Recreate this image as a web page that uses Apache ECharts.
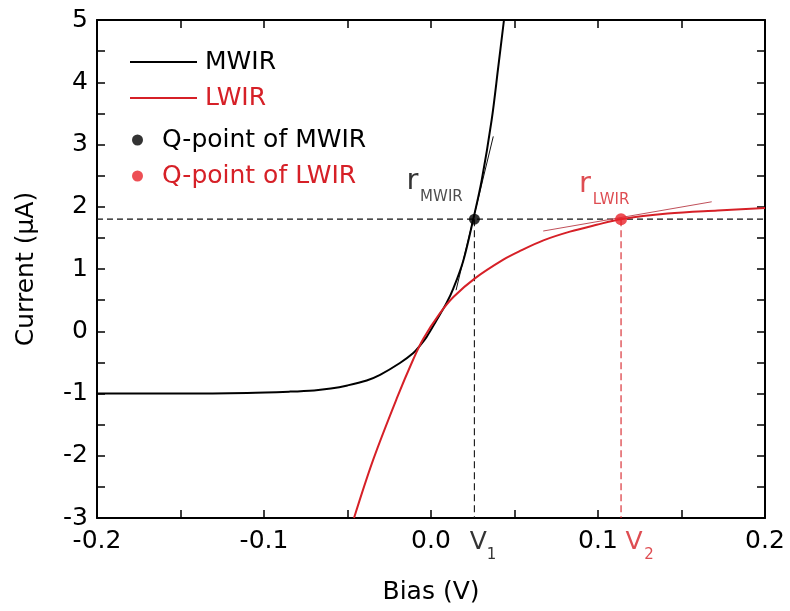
<!DOCTYPE html>
<html><head><meta charset="utf-8">
<script src="https://cdn.jsdelivr.net/npm/echarts@6/dist/echarts.min.js"></script>
<style>html,body{margin:0;padding:0;background:#fff}#c{width:790px;height:611px}</style>
</head><body><div id="c"></div>
<script>
// ---- data ----
const mwirX = [-0.200, -0.150, -0.110, -0.085, -0.070, -0.060, -0.050, -0.0385, -0.0305, -0.0186, -0.0106, -0.0066, -0.0026, 0.0034, 0.0094, 0.0134, 0.0193, 0.0253, 0.0304, 0.0363, 0.0403, 0.0437];
const mwirY = [-1.00, -1.00, -0.99, -0.97, -0.95, -0.92, -0.87, -0.79, -0.70, -0.51, -0.35, -0.23, -0.09, 0.18, 0.46, 0.69, 1.13, 1.80, 2.43, 3.39, 4.25, 5.00];
const lwirX = [-0.0461, -0.0347, -0.0205, -0.0106, -0.0046, 0.0054, 0.0134, 0.0263, 0.0433, 0.0533, 0.0673, 0.0832, 0.0992, 0.1138, 0.1417, 0.1717, 0.2000];
const lwirY = [-3.00, -2.07, -1.08, -0.45, -0.12, 0.29, 0.55, 0.85, 1.15, 1.29, 1.46, 1.60, 1.71, 1.80, 1.89, 1.94, 1.98];
const mwirTanX = [0.0150, 0.0373];
const mwirTanY = [0.66, 3.13];
const lwirTanX = [0.0672, 0.1681];
const lwirTanY = [1.61, 2.08];
const qNames = ['Q-point of MWIR', 'Q-point of LWIR'];
const qX = [0.026, 0.1138];
const qY = [1.8, 1.8];
const xRange = [-0.2, 0.2];
const yRange = [-3, 5];
const xTickLabels = ['-0.2', '-0.1', '0.0', '0.1', '0.2'];
const yTickLabels = ['-3', '-2', '-1', '0', '1', '2', '3', '4', '5'];

const RED = '#d62027';
const FONT = 'DejaVu Sans';
const zip = (xs, ys) => xs.map((x, i) => [x, ys[i]]);

const chart = echarts.init(document.getElementById('c'), null, {renderer: 'canvas'});

const baseAxis = {
  axisLine: {show: true, onZero: false, lineStyle: {color: '#000', width: 2}},
  axisTick: {show: true, inside: true, length: 8, lineStyle: {color: '#000', width: 1.5}},
  minorTick: {show: true, splitNumber: 2, length: 8, lineStyle: {color: '#000', width: 1.5}},
  splitLine: {show: false},
  minorSplitLine: {show: false}
};

const xFmt = v => { const i = Math.round((v - xRange[0]) / 0.1); return xTickLabels[i] !== undefined ? xTickLabels[i] : ''; };
const yFmt = v => { const i = Math.round(v - yRange[0]); return yTickLabels[i] !== undefined ? yTickLabels[i] : ''; };

const option = {
  animation: false,
  backgroundColor: '#fff',
  grid: {left: 97, right: 25, top: 20, bottom: 93, containLabel: false},
  xAxis: [
    Object.assign({}, baseAxis, {
      type: 'value', min: xRange[0], max: xRange[1], interval: 0.1, position: 'bottom',
      name: 'Bias (V)', nameLocation: 'middle', nameGap: 62,
      nameTextStyle: {fontFamily: FONT, fontSize: 25, color: '#000'},
      axisLabel: {show: true, margin: 11, fontFamily: FONT, fontSize: 25, color: '#000', formatter: xFmt, showMinLabel: true, showMaxLabel: true}
    }),
    Object.assign({}, baseAxis, {
      type: 'value', min: xRange[0], max: xRange[1], interval: 0.1, position: 'top',
      axisLabel: {show: false}
    })
  ],
  yAxis: [
    Object.assign({}, baseAxis, {
      type: 'value', min: yRange[0], max: yRange[1], interval: 1, position: 'left',
      name: 'Current (\u03bcA)', nameLocation: 'middle', nameGap: 58, nameRotate: 90,
      nameTextStyle: {fontFamily: FONT, fontSize: 25, color: '#000'},
      axisLabel: {show: true, margin: 9, fontFamily: FONT, fontSize: 25, color: '#000', formatter: yFmt, showMinLabel: true, showMaxLabel: true}
    }),
    Object.assign({}, baseAxis, {
      type: 'value', min: yRange[0], max: yRange[1], interval: 1, position: 'right',
      axisLabel: {show: false}
    })
  ],
  legend: [
    {
      orient: 'vertical', left: 130, top: 47, padding: 0, selectedMode: false,
      icon: 'rect', itemWidth: 67, itemHeight: 2, itemGap: 6,
      textStyle: {fontFamily: FONT, fontSize: 25, lineHeight: 30, padding: [0, 0, 0, 3]},
      data: [{name: 'MWIR', textStyle: {color: '#000'}}, {name: 'LWIR', textStyle: {color: RED}}]
    },
    {
      orient: 'vertical', left: 132, top: 125, padding: 0, selectedMode: false,
      icon: 'circle', itemWidth: 11, itemHeight: 11, itemGap: 6,
      textStyle: {fontFamily: FONT, fontSize: 25, lineHeight: 30, padding: [0, 0, 0, 14]},
      data: [{name: qNames[0], textStyle: {color: '#000'}}, {name: qNames[1], textStyle: {color: RED}}]
    }
  ],
  series: [
    // dashed guide lines
    {type: 'line', name: 'hguide', data: [[xRange[0], qY[0]], [xRange[1], qY[0]]], symbol: 'none', silent: true,
      lineStyle: {color: '#111', width: 1.2, type: [6, 4]}, z: 1},
    {type: 'line', name: 'v1guide', data: [[qX[0], qY[0]], [qX[0], yRange[0]]], symbol: 'none', silent: true,
      lineStyle: {color: '#222', width: 1.2, type: [7, 4]}, z: 1},
    {type: 'line', name: 'v2guide', data: [[qX[1], qY[1]], [qX[1], yRange[0]]], symbol: 'none', silent: true,
      lineStyle: {color: RED, width: 1.1, type: [7, 4]}, z: 1},
    // curves
    {type: 'line', name: 'MWIR', data: zip(mwirX, mwirY), symbol: 'none', smooth: 0.35,
      itemStyle: {color: '#000'}, lineStyle: {color: '#000', width: 2}, z: 3},
    {type: 'line', name: 'LWIR', data: zip(lwirX, lwirY), symbol: 'none', smooth: 0.35,
      itemStyle: {color: RED}, lineStyle: {color: RED, width: 2}, z: 3},
    // tangents
    {type: 'line', name: 'mwirTan', data: zip(mwirTanX, mwirTanY), symbol: 'none', silent: true,
      lineStyle: {color: '#111', width: 1}, z: 2},
    {type: 'line', name: 'lwirTan', data: zip(lwirTanX, lwirTanY), symbol: 'none', silent: true,
      lineStyle: {color: '#c0505a', width: 1}, z: 2},
    // Q-points
    {type: 'scatter', name: qNames[0], data: [[qX[0], qY[0]]], symbol: 'circle', symbolSize: 11,
      itemStyle: {color: '#000'}, z: 5},
    {type: 'scatter', name: qNames[1], data: [[qX[1], qY[1]]], symbol: 'circle', symbolSize: 12,
      itemStyle: {color: '#e8232b'}, z: 5},
    // text annotations anchored at Q-points and V positions
    {type: 'scatter', name: 'annot', symbolSize: 0, silent: true, z: 6,
      label: {show: true, position: 'inside', fontFamily: FONT, color: '#000'},
      data: [
        {value: [qX[0], qY[0]], label: {formatter: 'r', fontSize: 29, offset: [-62, -38], color: '#000'}},
        {value: [qX[0], qY[0]], label: {formatter: 'MWIR', fontSize: 15, offset: [-33, -22], color: '#222'}},
        {value: [qX[1], qY[1]], label: {formatter: 'r', fontSize: 29, offset: [-36, -35], color: RED}},
        {value: [qX[1], qY[1]], label: {formatter: 'LWIR', fontSize: 15, offset: [-10, -19], color: RED}},
        {value: [qX[0], yRange[0]], label: {formatter: 'V', fontSize: 25, offset: [4, 24], color: '#000'}},
        {value: [qX[0], yRange[0]], label: {formatter: '1', fontSize: 15, offset: [17, 37], color: '#000'}},
        {value: [qX[1], yRange[0]], label: {formatter: 'V', fontSize: 25, offset: [13, 24], color: RED}},
        {value: [qX[1], yRange[0]], label: {formatter: '2', fontSize: 15, offset: [28, 37], color: RED}}
      ]
    }
  ]
};
chart.setOption(option);
</script></body></html>
